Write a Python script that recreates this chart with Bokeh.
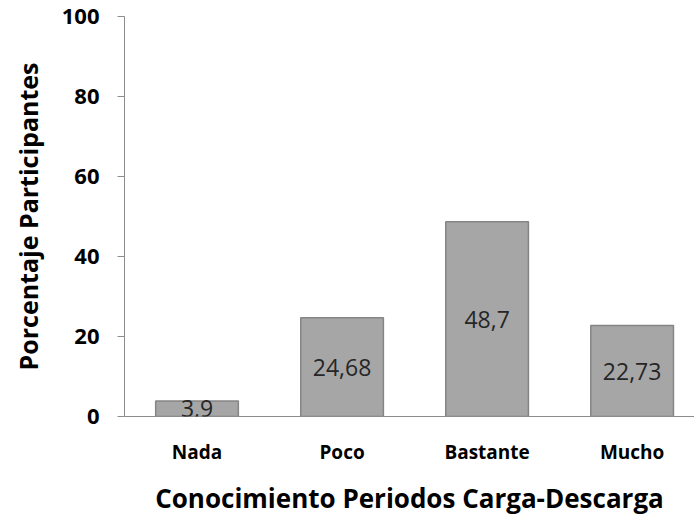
from bokeh.plotting import figure
from bokeh.models import Range1d, FixedTicker, ColumnDataSource, LabelSet
from bokeh.core.properties import value
from bokeh.embed import file_html
from bokeh.resources import INLINE

categories = ["Nada", "Poco", "Bastante", "Mucho"]
values = [3.9, 24.68, 48.7, 22.73]
value_labels = ["3,9", "24,68", "48,7", "22,73"]
y_ticks = [0, 20, 40, 60, 80, 100]

xpos = [i + 0.5 for i in range(len(categories))]
src = ColumnDataSource(dict(x=xpos, top=values, mid=[v / 2 for v in values], lab=value_labels))

FONT = "Open Sans"

p = figure(width=694, height=519, output_backend="svg", toolbar_location=None,
           x_range=Range1d(0, 3.93), y_range=Range1d(0, 100),
           min_border_left=124, min_border_right=0, min_border_top=16, min_border_bottom=103)
p.outline_line_color = None
p.xgrid.grid_line_color = None
p.ygrid.grid_line_color = None

p.vbar(x="x", top="top", width=0.57, source=src, fill_color="#a6a6a6",
       line_color="#858585", line_width=1.5)

labels = LabelSet(x="x", y="mid", text="lab", source=src, text_align="center",
                  text_baseline="middle", text_font_size="23px", text_color="#262626",
                  text_font=value(FONT))
p.add_layout(labels)

p.xaxis.ticker = FixedTicker(ticks=xpos)
p.xaxis.major_label_overrides = {x: c for x, c in zip(xpos, categories)}
p.xaxis.major_tick_line_color = None
p.xaxis.minor_tick_line_color = None
p.xaxis.axis_line_color = "#8c8c8c"
p.xaxis.major_label_text_font = FONT
p.xaxis.major_label_text_font_style = "bold"
p.xaxis.major_label_text_font_size = "19px"
p.xaxis.major_label_text_color = "black"
p.xaxis.major_label_standoff = 16
p.xaxis.axis_label = "Conocimiento Periodos Carga-Descarga"
p.xaxis.axis_label_text_font = FONT
p.xaxis.axis_label_text_font_style = "bold"
p.xaxis.axis_label_text_font_size = "26px"
p.xaxis.axis_label_text_color = "black"
p.xaxis.axis_label_standoff = 12

p.yaxis.ticker = FixedTicker(ticks=y_ticks)
p.yaxis.minor_tick_line_color = None
p.yaxis.axis_line_color = "#8c8c8c"
p.yaxis.major_tick_line_color = "#8c8c8c"
p.yaxis.major_tick_in = 0
p.yaxis.major_tick_out = 7
p.yaxis.major_label_text_font = FONT
p.yaxis.major_label_text_font_style = "bold"
p.yaxis.major_label_text_font_size = "22px"
p.yaxis.major_label_text_color = "black"
p.yaxis.major_label_standoff = 18
p.yaxis.axis_label = "Porcentaje Participantes"
p.yaxis.axis_label_text_font = FONT
p.yaxis.axis_label_text_font_style = "bold"
p.yaxis.axis_label_text_font_size = "25px"
p.yaxis.axis_label_text_color = "black"
p.yaxis.axis_label_standoff = 14

open("out.html", "w").write(file_html(p, INLINE))
